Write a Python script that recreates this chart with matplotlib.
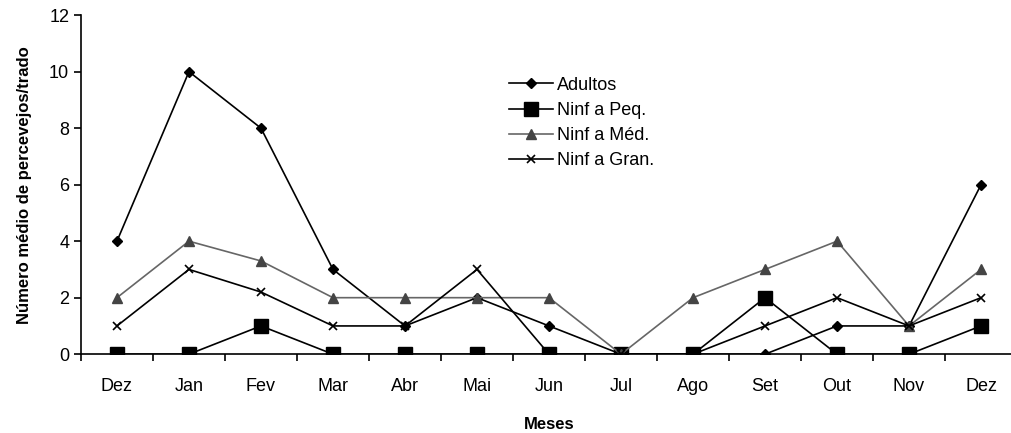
import numpy as np
import matplotlib.pyplot as plt

plt.rcParams['font.family'] = ['Liberation Sans', 'DejaVu Sans']

meses = ['Dez', 'Jan', 'Fev', 'Mar', 'Abr', 'Mai', 'Jun', 'Jul', 'Ago', 'Set', 'Out', 'Nov', 'Dez']
adultos = [4, 10, 8, 3, 1, 2, 1, 0, 0, 0, 1, 1, 6]
ninf_peq = [0, 0, 1, 0, 0, 0, 0, 0, 0, 2, 0, 0, 1]
ninf_med = [2, 4, 3.3, 2, 2, 2, 2, 0, 2, 3, 4, 1, 3]
ninf_gran = [1, 3, 2.2, 1, 1, 3, 0, 0, 0, 1, 2, 1, 2]

x = np.arange(len(meses))

fig = plt.figure(figsize=(10.12, 4.33), dpi=100)
ax = fig.add_axes([0.080, 0.182, 0.925, 0.783])

ax.plot(x, adultos, color='black', lw=1.2, marker='D', ms=5, label='Adultos')
ax.plot(x, ninf_peq, color='black', lw=1.2, marker='s', ms=10, label='Ninf a Peq.')
ax.plot(x, ninf_med, color='#666666', lw=1.2, marker='^', ms=7, mfc='#444444', mec='#444444', label='Ninf a Méd.')
ax.plot(x, ninf_gran, color='black', lw=1.2, marker='x', ms=6, mew=1.2, label='Ninf a Gran.')

ax.set_xlim(-0.5, 12.5)
ax.set_ylim(0, 12)
ax.set_yticks(np.arange(0, 13, 2))
ax.set_xticks(x)
ax.set_xticklabels(meses)
ax.set_xticks(np.arange(-0.5, 12.5, 1), minor=True)
ax.tick_params(axis='x', which='major', length=0, pad=17, labelsize=13)
ax.tick_params(axis='x', which='minor', length=5, direction='out', width=1.2)
ax.tick_params(axis='y', length=5, width=1.2, labelsize=13)

for s in ['top', 'right']:
    ax.spines[s].set_visible(False)
ax.spines['left'].set_linewidth(1.2)
ax.spines['bottom'].set_linewidth(1.2)

ax.set_xlabel('Meses', fontsize=12, fontweight='bold', labelpad=16)
ax.set_ylabel('Número médio de percevejos/trado', fontsize=12, fontweight='bold', labelpad=12)

ax.legend(loc='upper left', bbox_to_anchor=(0.448, 0.845), frameon=False, fontsize=13,
          handlelength=2.4, handletextpad=0.25, labelspacing=0.45, borderpad=0)

fig.savefig('out.png', dpi=100)
